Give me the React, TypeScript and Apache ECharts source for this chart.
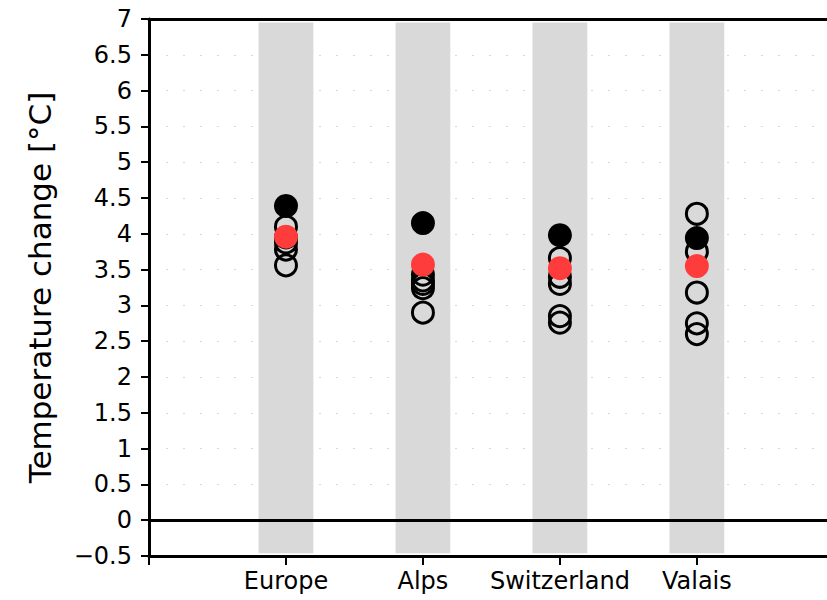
import React, { useEffect, useRef } from "react";
import * as echarts from "echarts";

const categories = ["Europe", "Alps", "Switzerland", "Valais"];
const categoryPositions = [1, 2, 3, 4];
const blackValues = [4.39, 4.15, 3.98, 3.94];
const redValues = [3.96, 3.57, 3.52, 3.55];
const openEurope = [4.1, 3.95, 3.88, 3.78, 3.56];
const openAlps = [3.43, 3.35, 3.3, 3.24, 2.9];
const openSwitzerland = [3.66, 3.4, 3.3, 2.85, 2.76];
const openValais = [4.28, 3.75, 3.18, 2.75, 2.6];
const bandLow = -0.46;
const bandHigh = 6.95;

const openAll = [openEurope, openAlps, openSwitzerland, openValais];

export default function App() {
  const ref = useRef<HTMLDivElement>(null);
  useEffect(() => {
    if (!ref.current) return;
    const chart = echarts.init(ref.current, null, { renderer: "svg" });
    const font = "DejaVu Sans";
    const openData: number[][] = [];
    openAll.forEach((vals, i) => vals.forEach((v) => openData.push([categoryPositions[i], v])));
    chart.setOption({
      animation: false,
      grid: { left: 149, top: 19, width: 678, height: 537 },
      xAxis: [
        {
          type: "value",
          min: 0,
          max: 4.95,
          interval: 1,
          position: "bottom",
          axisLine: { onZero: false, lineStyle: { color: "#000", width: 3 } },
          axisTick: { show: true, length: 9, lineStyle: { color: "#000", width: 2 } },
          axisLabel: {
            color: "#000",
            fontFamily: font,
            fontSize: 24,
            margin: 13,
            showMaxLabel: false,
            formatter: (v: number) => {
              const idx = categoryPositions.indexOf(v);
              return idx >= 0 ? categories[idx] : "";
            },
          },
          splitLine: { show: false },
        },
        {
          type: "value",
          min: 0,
          max: 4.95,
          position: "top",
          axisLine: { onZero: false, lineStyle: { color: "#000", width: 3 } },
          axisTick: { show: false },
          axisLabel: { show: false },
          splitLine: { show: false },
        },
      ],
      yAxis: {
        type: "value",
        min: -0.5,
        max: 7,
        interval: 0.5,
        name: "Temperature change [°C]",
        nameLocation: "middle",
        nameGap: 94,
        nameTextStyle: { color: "#000", fontFamily: font, fontSize: 31 },
        axisLine: { show: true, onZero: false, lineStyle: { color: "#000", width: 3 } },
        axisTick: { show: true, length: 8, lineStyle: { color: "#000", width: 2 } },
        axisLabel: {
          color: "#000",
          fontFamily: font,
          fontSize: 24,
          margin: 17,
          formatter: (v: number) => String(v).replace("-", "\u2212"),
        },
        splitLine: { show: true, lineStyle: { color: "#d8d8d8", width: 1, type: [2, 15] } },
      },
      series: [
        {
          type: "custom",
          silent: true,
          data: categoryPositions.map((x) => [x, bandLow, bandHigh]),
          renderItem: (params: any, api: any) => {
            const x = api.value(0);
            const top = api.coord([x, api.value(2)]);
            const bot = api.coord([x, api.value(1)]);
            const w = api.size([1, 0])[0] * 0.4;
            return {
              type: "rect",
              shape: { x: top[0] - w / 2, y: top[1], width: w, height: bot[1] - top[1] },
              style: { fill: "#d9d9d9" },
            };
          },
          markLine: {
            silent: true,
            symbol: "none",
            label: { show: false },
            lineStyle: { color: "#000", width: 3, type: "solid" },
            data: [{ yAxis: 0 }],
          },
          z: 1,
        },
        {
          type: "scatter",
          data: openData,
          symbol: "circle",
          symbolSize: 21,
          itemStyle: { color: "rgba(0,0,0,0)", borderColor: "#000", borderWidth: 3, opacity: 1 },
          z: 3,
        },
        {
          type: "scatter",
          data: categoryPositions.map((x, i) => [x, blackValues[i]]),
          symbol: "circle",
          symbolSize: 24,
          itemStyle: { color: "#000", opacity: 1 },
          z: 4,
        },
        {
          type: "scatter",
          data: categoryPositions.map((x, i) => [x, redValues[i]]),
          symbol: "circle",
          symbolSize: 24,
          itemStyle: { color: "#ff3c3c", opacity: 1 },
          z: 5,
        },
      ],
    });
    return () => chart.dispose();
  }, []);
  return <div ref={ref} style={{ width: 827, height: 600, position: "absolute", left: 0, top: 0 }} />;
}
